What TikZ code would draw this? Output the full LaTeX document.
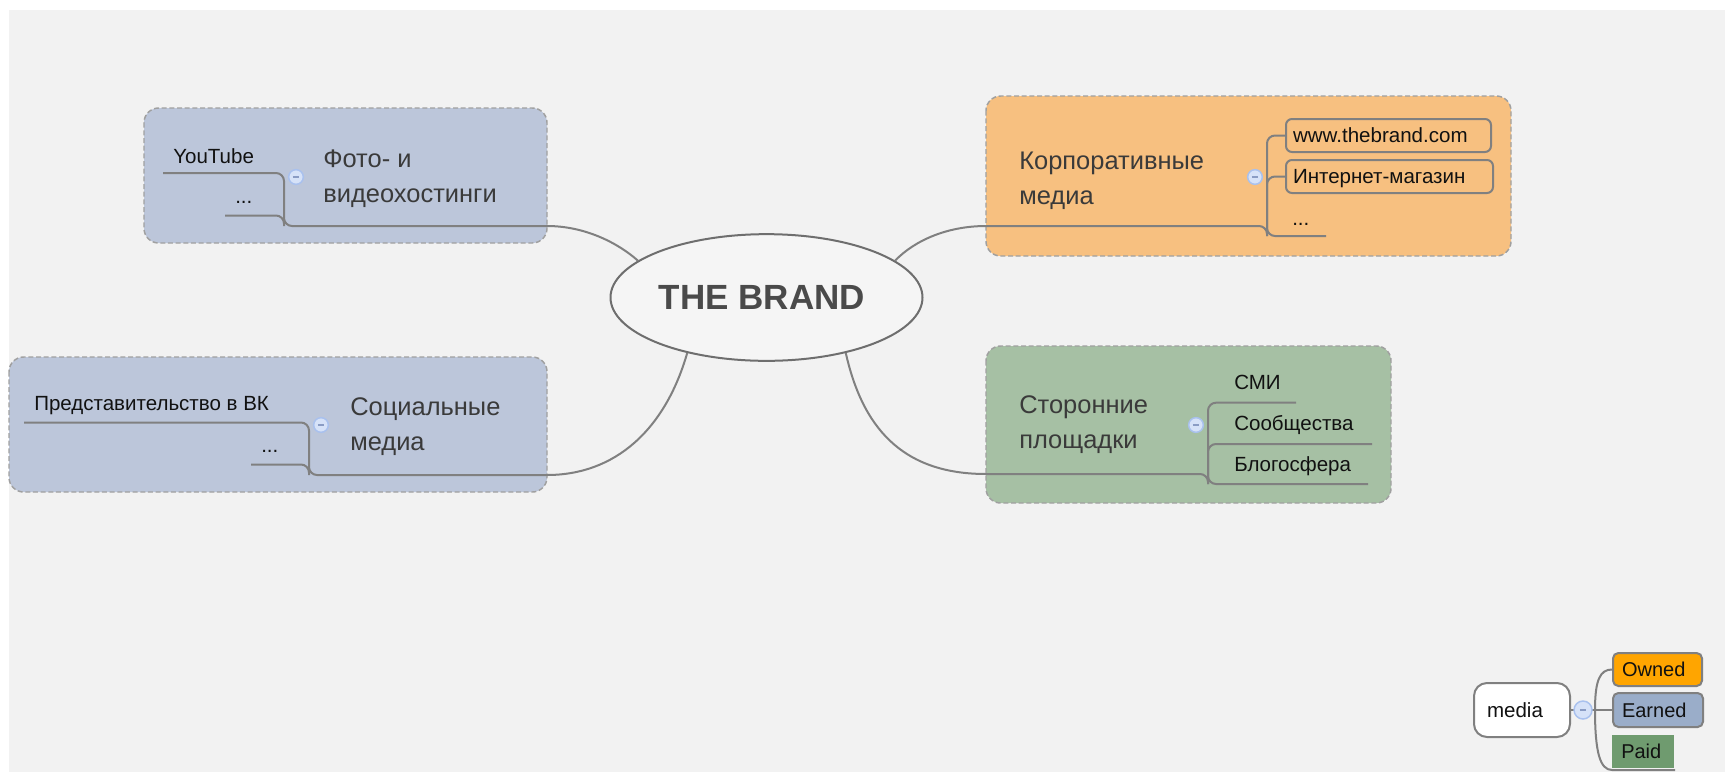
\documentclass[tikz,border=0pt]{standalone}
\usepackage{fontspec}
\setmainfont{Liberation Sans}
\usetikzlibrary{shapes.geometric}
\definecolor{bgc}{HTML}{F2F2F2}
\definecolor{bluebox}{HTML}{BCC6DA}
\definecolor{orangebox}{HTML}{F7C080}
\definecolor{greenbox}{HTML}{A6C0A4}
\definecolor{dashc}{HTML}{A0A0A0}
\definecolor{linec}{HTML}{808080}
\definecolor{ellc}{HTML}{6E6E6E}
\definecolor{topictext}{HTML}{3A3A3A}
\definecolor{subtext}{HTML}{111111}
\definecolor{brandtext}{HTML}{4A4A4A}
\definecolor{collfill}{HTML}{D6E2F8}
\definecolor{colldraw}{HTML}{A9C1EE}
\definecolor{collminus}{HTML}{8A9CC4}
\definecolor{ownedc}{HTML}{FFA500}
\definecolor{earnedc}{HTML}{9AADC9}
\definecolor{paidc}{HTML}{6F9B6F}
\begin{document}
\begin{tikzpicture}[x=0.75pt,y=-0.75pt,
 groupbox/.style={draw=dashc, line width=1.1pt, dash pattern=on 3.75pt off 2pt, rounded corners=11pt},
 branch/.style={draw=linec, line width=1.5pt, rounded corners=6pt},
 conn/.style={draw=linec, line width=1.5pt},
 topic/.style={font=\fontsize{19.1}{26}\selectfont, text=topictext, inner sep=0pt, anchor=base west},
 sub/.style={font=\fontsize{15.4}{18}\selectfont, text=subtext, inner sep=0pt, anchor=base west},
 collapse/.style={circle, fill=collfill, draw=colldraw, line width=1.1pt, minimum size=11pt, inner sep=0pt,
   path picture={\draw[collminus, line width=1.3pt] ([xshift=-2.4pt]path picture bounding box.center) -- ([xshift=2.4pt]path picture bounding box.center);}},
 childbox/.style={draw=linec, line width=1.5pt, rounded corners=4.5pt, anchor=west, align=left,
   font=\fontsize{15.4}{18}\selectfont, text=subtext, inner xsep=5.25pt, inner ysep=6.875pt, text height=11pt, text depth=0pt},
 legendbox/.style={anchor=west, align=left, font=\fontsize{15}{18}\selectfont, text=subtext,
   inner xsep=6.75pt, text height=11pt, text depth=0pt}
]
\useasboundingbox (0,0) rectangle (1725,772);
\fill[white] (0,0) rectangle (1725,772);
\fill[bgc] (9,10) rectangle (1725,772);

% group boxes
\path[groupbox, fill=bluebox] (144,108) rectangle (547,243);
\path[groupbox, fill=orangebox] (986,96) rectangle (1511,256);
\path[groupbox, fill=bluebox] (9,357) rectangle (547,492);
\path[groupbox, fill=greenbox] (986,346) rectangle (1391,503);

% central topic
\node[ellipse, draw=ellc, line width=1.5pt, fill=bgc!80!white, minimum width=234pt, minimum height=95pt,
  font=\fontsize{26.25}{30}\selectfont\bfseries, text=brandtext] (brand) at (766.5,297.5) {\hspace*{-7pt}THE BRAND};

% ---- top-left: photo/video hosting
\node[sub] (yt) at (173,163.3) {YouTube};
\node[sub] (ytdots) at (235,203.3) {...};
\node[topic] (foto1) at (323,167) {Фото- и};
\node[topic] (foto2) at (323,202) {видеохостинги};
\coordinate (tlA) at (163,173);
\coordinate (tlB) at (225,215.5);
\coordinate (tlJ) at (284,226);
\coordinate (tlE) at (547,226);
\draw[branch] (tlA) -| (tlJ) -- (tlE);
\draw[branch] (tlB) -| (tlJ);
\draw[conn] (tlE) .. controls (585,226) and (618,243) .. (brand.164);
\node[collapse] (c1) at (296,177) {};

% ---- bottom-left: social media
\node[sub] (vk) at (34,410) {Представительство в ВК};
\node[sub] (vkdots) at (261,452) {...};
\node[topic] (soc1) at (350,415) {Социальные};
\node[topic] (soc2) at (350,450) {медиа};
\coordinate (blA) at (24,422.5);
\coordinate (blB) at (251,464.5);
\coordinate (blJ) at (309,475);
\coordinate (blE) at (547,475);
\draw[branch] (blA) -| (blJ) -- (blE);
\draw[branch] (blB) -| (blJ);
\draw[conn] (brand.215) .. controls (665,430) and (615,475) .. (blE);
\node[collapse] (c3) at (321,425) {};

% ---- top-right: corporate media
\node[topic] (corp1) at (1019,169) {Корпоративные};
\node[topic] (corp2) at (1019,204) {медиа};
\node[childbox, text width=143.25pt] (www) at (1285,135.5) {www.thebrand.com};
\node[childbox, text width=144.75pt] (inet) at (1285,176.5) {Интернет-магазин};
\node[sub] (odots) at (1292,225) {...};
\coordinate (oL) at (986,226);
\coordinate (oBot) at (1267,236);
\coordinate (oEnd) at (1326,236);
\draw[branch] (www.west) -| (oBot) -- (oEnd);
\draw[branch] (inet.west) -| (oBot);
\draw[branch] (oL) -| (oBot);
\draw[conn] (brand.16) .. controls (915,240) and (948,226) .. (oL);
\node[collapse] (c2) at (1255,177) {};

% ---- bottom-right: third-party platforms
\node[topic] (st1) at (1019,413) {Сторонние};
\node[topic] (st2) at (1019,448) {площадки};
\node[sub] (smi) at (1234,389) {СМИ};
\node[sub] (soob) at (1234,430) {Сообщества};
\node[sub] (blog) at (1234,471) {Блогосфера};
\coordinate (gL) at (986,474);
\coordinate (gBot) at (1208,484);
\coordinate (gSmi) at (1296,402.7);
\coordinate (gSoob) at (1372,444);
\coordinate (gBlog) at (1368,484);
\draw[branch] (gSmi) -| (gBot) -- (gBlog);
\draw[branch] (gSoob) -| (gBot);
\draw[branch] (gL) -| (gBot);
\draw[conn] (brand.-35) .. controls (862,425) and (900,474) .. (gL);
\node[collapse] (c4) at (1196,425) {};

% ---- legend
\node[draw=linec, line width=1.5pt, rounded corners=9.75pt, fill=white, anchor=west, align=left,
  font=\fontsize{15.4}{18}\selectfont, text=subtext, inner xsep=9.75pt, text width=52.5pt,
  text height=11pt, text depth=0pt, inner ysep=14.75pt] (media) at (1473,710) {media};
\node[legendbox, draw=linec, line width=1.5pt, rounded corners=4pt, fill=ownedc, text width=53.25pt, inner ysep=6.875pt] (owned) at (1612,669.5) {Owned};
\node[legendbox, draw=linec, line width=1.5pt, rounded corners=4pt, fill=earnedc, text width=54pt, inner ysep=7.25pt] (earned) at (1612,710) {Earned};
\node[legendbox, fill=paidc, text width=33pt, inner ysep=6.875pt] (paid) at (1612,751.5) {Paid};
\coordinate (lv) at (1595,710);
\coordinate (lpb) at (1612,770);
\coordinate (lpe) at (1675,770);
\draw[conn] (media.east) -- (earned.west);
\draw[conn] (lv) .. controls (1595,680) and (1600,669.5) .. (owned.west);
\draw[conn] (lv) .. controls (1595,752) and (1600,770) .. (lpb) -- (lpe);
\node[collapse, minimum size=13.5pt] (c5) at (1583,710) {};
\end{tikzpicture}
\end{document}
